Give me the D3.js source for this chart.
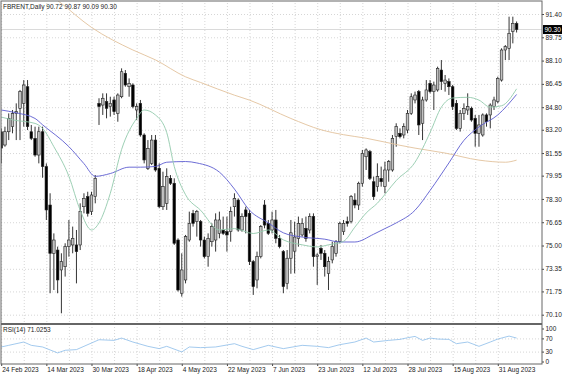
<!DOCTYPE html>
<html>
<head>
<meta charset="utf-8">
<script src="https://cdn.jsdelivr.net/npm/d3@7"></script>
<style>
  body { margin: 0; background: #fff; }
  svg text { font-family: "Liberation Sans", Arial, sans-serif; font-size: 6.5px; fill: #222; }
</style>
</head>
<body>
<script>
(function(){
    "use strict";

    // daily candles, bar 0 = 24 Feb 2023
    const open  = [83.06,82.12,83.06,83.42,84.36,84.72,85.07,86.25,83.06,82.59,81.41,83.06,80.59,77.87,74.45,74.68,73.27,73.50,74.92,75.04,
                   75.04,75.04,77.75,78.46,77.40,78.46,85.07,84.95,85.19,84.84,85.31,84.36,85.54,87.20,86.25,86.37,84.60,85.07,82.83,80.47,
                   80.82,82.47,80.47,77.75,77.99,79.76,79.41,75.39,71.62,72.56,75.39,77.28,76.69,76.69,75.39,74.21,75.27,75.39,75.86,76.10,
                   75.98,75.98,77.75,78.22,76.10,77.52,77.28,73.86,72.56,74.21,77.87,76.57,76.10,76.81,75.51,74.57,72.30,74.10,74.60,75.51,
                   75.75,76.22,76.10,77.05,74.21,74.80,74.45,73.03,73.98,74.45,75.27,75.98,76.69,76.69,78.22,77.87,79.41,81.29,81.65,79.52,
                   79.17,79.76,79.17,80.35,80.35,82.71,82.95,82.83,83.18,84.36,85.31,85.90,83.66,85.31,86.49,85.90,86.02,87.43,86.49,86.61,
                   86.25,85.07,83.30,84.36,84.60,84.72,84.01,82.95,82.83,84.25,84.25,84.84,85.19,86.72,88.85,88.97,90.15,90.72];
    const high  = [83.30,83.42,84.36,84.60,85.07,86.02,86.72,86.72,83.54,83.42,83.42,83.42,80.82,78.70,75.86,74.92,74.45,75.16,76.81,76.34,
                   76.10,77.99,78.70,78.81,78.81,79.99,85.43,85.78,85.78,85.54,85.54,85.78,87.55,87.43,86.84,86.49,85.07,85.31,82.95,82.47,
                   82.83,82.83,80.82,80.23,80.47,79.99,79.76,75.51,74.45,75.75,77.40,77.52,77.52,76.81,75.63,75.86,76.57,77.28,77.40,77.05,
                   77.05,77.75,78.70,78.34,77.28,77.75,77.52,73.98,74.57,76.45,78.22,76.81,77.40,77.52,75.75,74.68,74.68,76.81,76.69,77.05,
                   76.93,77.05,77.28,77.28,74.45,75.04,74.68,74.21,75.27,75.39,76.69,76.81,77.05,78.58,78.70,79.52,81.77,81.88,81.77,79.88,
                   80.82,80.59,80.94,81.06,82.83,83.66,83.30,83.66,84.60,85.78,85.90,86.02,85.54,86.72,86.72,86.61,87.67,88.14,87.08,86.84,
                   86.37,85.31,84.60,85.07,85.78,84.84,84.25,84.25,84.36,84.36,85.07,85.54,86.96,88.97,89.20,91.21,91.21,90.87];
    const low   = [80.82,82.00,82.47,82.95,82.47,82.47,83.42,83.18,82.47,81.29,80.82,79.80,76.81,71.62,71.85,71.62,70.20,72.80,74.21,74.45,
                   72.32,74.68,77.28,77.05,77.16,77.99,83.54,84.25,84.01,84.13,84.25,83.77,85.43,86.25,85.54,84.72,83.89,82.71,80.82,80.35,
                   80.70,80.23,77.64,77.52,77.52,79.29,75.04,71.74,71.38,72.32,75.27,76.34,75.63,74.92,74.09,73.50,74.92,74.57,75.51,75.75,
                   74.57,75.27,77.05,75.98,75.98,75.86,73.62,71.50,71.97,74.09,76.22,75.75,75.86,75.16,74.80,71.62,71.90,73.00,73.03,74.92,
                   75.63,75.27,75.86,73.50,72.21,73.98,72.80,71.85,73.74,74.21,75.16,75.75,76.34,76.57,77.64,77.52,79.17,80.35,79.64,78.23,
                   78.82,79.17,78.70,79.52,80.23,82.00,82.59,82.59,82.95,84.25,85.07,82.83,82.47,85.19,85.78,84.60,85.90,86.02,85.90,85.66,
                   84.60,83.18,83.07,83.89,84.25,83.77,82.00,82.00,82.71,83.42,83.30,84.60,85.07,86.61,88.14,88.14,89.32,90.09];
    const close = [81.90,83.06,84.01,84.36,84.48,85.90,86.37,83.42,82.59,81.41,83.06,80.59,77.52,74.45,75.39,72.56,73.86,74.92,75.39,75.51,
                   74.57,77.40,78.34,77.28,78.58,79.76,84.84,85.43,84.72,85.07,84.48,85.66,87.31,86.37,86.49,84.84,84.84,82.83,81.06,81.88,
                   82.47,80.35,77.75,79.17,79.88,79.41,75.16,71.85,73.27,75.63,76.57,76.57,77.40,75.39,74.21,75.51,76.34,76.81,76.81,75.86,
                   75.75,77.40,78.34,76.10,77.05,77.05,73.86,72.09,74.21,76.34,76.45,75.86,76.81,75.51,74.92,72.09,74.10,75.90,75.60,76.57,
                   76.57,75.51,77.05,74.21,74.33,74.45,73.50,73.86,74.92,75.27,76.57,76.57,76.57,78.46,77.87,79.41,81.53,81.77,79.76,78.46,
                   79.88,79.52,80.35,80.94,82.59,83.42,82.71,83.42,84.36,85.54,85.66,83.54,85.31,86.02,85.90,86.37,87.55,86.61,86.72,86.25,
                   84.84,83.30,84.36,84.72,84.84,83.89,82.95,83.54,84.25,83.77,84.95,85.31,86.84,88.85,89.09,90.03,90.74,90.30];

    // moving averages as [bar, price]
    const maSlow = [[8,93.6],[15,92.35],[24,90.45],[35,88.85],[41,88.15],[49,86.95],[53,86.55],[62,85.65],[66,85.3],[77,84.0],
                    [85,83.2],[91,82.85],[97,82.6],[106,82.1],[110,81.9],[118,81.55],[127,81.05],[134,80.9],[137,81.05]];
    const maMid  = [[0,84.6],[4,84.4],[9,84.0],[11,83.55],[18,82.0],[22,80.8],[25,79.9],[29,80.1],[34,80.55],[37,80.55],
                    [41,80.6],[44,80.9],[49,80.95],[52,80.85],[58,80.2],[62,79.0],[66,77.5],[71,76.6],[75,75.9],[80,75.6],
                    [86,75.45],[90,75.25],[94,75.25],[99,75.8],[102,76.2],[105,76.6],[110,77.5],[114,78.9],[119,80.85],[123,82.45],
                    [127,83.4],[132,84.25],[137,85.7]];
    const maFast = [[0,84.1],[3,83.9],[9,83.65],[11,83.3],[14,82.0],[18,79.9],[21,77.5],[24,76.1],[26,76.6],[29,78.7],
                    [32,81.8],[36,84.0],[38,84.6],[41,84.25],[44,83.0],[46,80.6],[49,78.6],[53,77.5],[58,76.1],[62,76.2],
                    [67,75.85],[71,76.1],[75,75.4],[80,75.05],[84,74.9],[87,75.05],[91,75.3],[94,76.3],[97,77.3],[100,78.0],
                    [105,79.6],[110,80.9],[114,83.0],[117,84.8],[120,85.45],[124,85.5],[127,85.3],[130,84.8],[133,84.9],[137,86.1]];
    const rsi = [[0,44],[2,49],[6,59],[8,49],[11,44],[15,26],[17,34],[20,36],[22,46],[26,66],
                 [30,64],[32,71],[35,59],[39,46],[42,39],[44,46],[48,29],[50,44],[53,42],[57,44],
                 [62,54],[64,46],[67,36],[71,49],[75,39],[80,49],[84,46],[87,42],[90,51],[94,59],
                 [97,71],[99,59],[103,64],[106,67],[108,72],[110,76],[112,64],[114,71],[116,68],[119,67],
                 [121,54],[124,59],[127,46],[130,59],[132,68],[135,77],[137,71.03]];

    const priceTicks = [91.40,89.75,88.10,86.45,84.80,83.20,81.55,79.95,78.30,76.65,75.00,73.35,71.75,70.10];
    const rsiTicks = [100,70,30,0];
    const dateLabels = ["24 Feb 2023","14 Mar 2023","30 Mar 2023","18 Apr 2023","4 May 2023","22 May 2023",
                        "7 Jun 2023","23 Jun 2023","12 Jul 2023","28 Jul 2023","15 Aug 2023","31 Aug 2023"];
    const title = "FBRENT,Daily  90.72 90.87 90.09 90.30";
    const rsiTitle = "RSI(14) 71.0253";
    const lastPrice = 90.30;

    const width = 564, height = 376;
    const frame = {left: 1, right: 542, top: 1, bottom: 364, split: 324};

    let svg = d3.select("body").append("svg")
        .attr("width", width)
        .attr("height", height);

    let x = d3.scaleLinear().domain([0, 137]).range([1.2, 516.6]);
    let y = d3.scaleLinear().domain([70.10, 91.40]).range([314.7, 14]);
    let yRsi = d3.scaleLinear().domain([0, 100]).range([361.5, 328.5]);

    svg.append("defs").append("clipPath").attr("id", "main")
        .append("rect")
            .attr("x", frame.left).attr("y", frame.top)
            .attr("width", frame.right - frame.left)
            .attr("height", frame.split - 1 - frame.top);

    drawGrid();
    drawAxes();
    plotCandles();
    plotLines();
    drawFrame();

    function drawGrid() {
        let gridIdx = d3.range(0, 138, 6);
        let vGrid = svg.append("g")
            .attr("transform", "translate(0," + frame.bottom + ")")
            .call(d3.axisBottom(x).tickValues(gridIdx).tickSize(-(frame.bottom - frame.top)).tickFormat(""));
        let hGrid = svg.append("g")
            .attr("transform", "translate(" + frame.right + ",0)")
            .call(d3.axisRight(y).tickValues(priceTicks).tickSize(-(frame.right - frame.left)).tickFormat(""));
        let rGrid = svg.append("g")
            .attr("transform", "translate(" + frame.right + ",0)")
            .call(d3.axisRight(yRsi).tickValues([70, 30]).tickSize(-(frame.right - frame.left)).tickFormat(""));
        [vGrid, hGrid, rGrid].forEach(function(g) {
            g.select(".domain").remove();
            g.selectAll("line")
                .attr("stroke", "#cccccc")
                .attr("stroke-width", 0.8)
                .attr("stroke-dasharray", "1,2");
        });
    }

    function drawAxes() {
        let priceAxis = svg.append("g")
            .attr("transform", "translate(" + frame.right + ",0)")
            .call(d3.axisRight(y).tickValues(priceTicks).tickSize(2).tickPadding(1.5).tickFormat(d3.format(".2f")));
        let rsiAxis = svg.append("g")
            .attr("transform", "translate(" + frame.right + ",0)")
            .call(d3.axisRight(yRsi).tickValues(rsiTicks).tickSize(2).tickPadding(1.5));
        let dateAxis = svg.append("g")
            .attr("transform", "translate(0," + frame.bottom + ")")
            .call(d3.axisBottom(x).tickValues(d3.range(0, 138, 12)).tickSize(2).tickPadding(1)
                .tickFormat((d, i) => dateLabels[i]));
        dateAxis.selectAll("text").style("text-anchor", "start").attr("dx", "0.5");
        [priceAxis, rsiAxis, dateAxis].forEach(function(g) {
            g.select(".domain").remove();
            g.selectAll("line").attr("stroke", "#444");
            g.selectAll("text").style("font-family", null).style("font-size", null).attr("fill", "#222");
            g.attr("font-family", null).attr("font-size", null);
        });

        // bid line and price box
        svg.append("line")
            .attr("x1", frame.left).attr("x2", frame.right)
            .attr("y1", y(lastPrice)).attr("y2", y(lastPrice))
            .attr("stroke", "#cfcfcf").attr("stroke-width", 0.8);
        svg.append("rect")
            .attr("x", frame.right + 1).attr("y", y(lastPrice) - 4.5)
            .attr("width", 19).attr("height", 9)
            .attr("fill", "#000");
        svg.append("text")
            .attr("x", frame.right + 2.5).attr("y", y(lastPrice) + 2.3)
            .style("fill", "#fff")
            .text(d3.format(".2f")(lastPrice));

        svg.append("text").attr("x", 3).attr("y", 8.5).text(title);
        svg.append("text").attr("x", 3).attr("y", 332).text(rsiTitle);
    }

    function plotCandles() {
        let bars = d3.range(open.length);
        let g = svg.append("g").attr("clip-path", "url(#main)");
        g.selectAll(".wick")
            .data(bars)
            .enter()
            .append("line")
                .attr("x1", d => x(d)).attr("x2", d => x(d))
                .attr("y1", d => y(high[d])).attr("y2", d => y(low[d]))
                .attr("stroke", "#000")
                .attr("stroke-width", 0.8);
        g.selectAll(".body")
            .data(bars)
            .enter()
            .append("rect")
                .attr("x", d => x(d) - 1.3)
                .attr("width", 2.6)
                .attr("y", d => y(Math.max(open[d], close[d])))
                .attr("height", d => Math.max(0.7, Math.abs(y(open[d]) - y(close[d]))))
                .attr("fill", d => close[d] >= open[d] ? "#c2c2c2" : "#000")
                .attr("stroke", "#222")
                .attr("stroke-width", 0.6);
    }

    function plotLines() {
        let g = svg.append("g").attr("clip-path", "url(#main)");
        let line = d3.line()
            .x(d => x(d[0]))
            .y(d => y(d[1]))
            .curve(d3.curveMonotoneX);
        g.append("path").datum(maSlow).attr("d", line)
            .attr("fill", "none").attr("stroke", "#e2c29c").attr("stroke-width", 0.9);
        g.append("path").datum(maMid).attr("d", line)
            .attr("fill", "none").attr("stroke", "#5c5cd0").attr("stroke-width", 0.9);
        g.append("path").datum(maFast).attr("d", line)
            .attr("fill", "none").attr("stroke", "#92c9ab").attr("stroke-width", 0.9);

        let rsiLine = d3.line()
            .x(d => x(d[0]))
            .y(d => yRsi(d[1]));
        svg.append("path").datum(rsi).attr("d", rsiLine)
            .attr("fill", "none").attr("stroke", "#8cbdea").attr("stroke-width", 0.8);
    }

    function drawFrame() {
        svg.append("rect")
            .attr("x", frame.left).attr("y", frame.top)
            .attr("width", frame.right - frame.left)
            .attr("height", frame.bottom - frame.top)
            .attr("fill", "none")
            .attr("stroke", "#666")
            .attr("stroke-width", 1);
        svg.append("rect")
            .attr("x", frame.left).attr("y", frame.split - 1)
            .attr("width", frame.right - frame.left)
            .attr("height", 2)
            .attr("fill", "#666");
    }
})()
</script>
</body>
</html>
